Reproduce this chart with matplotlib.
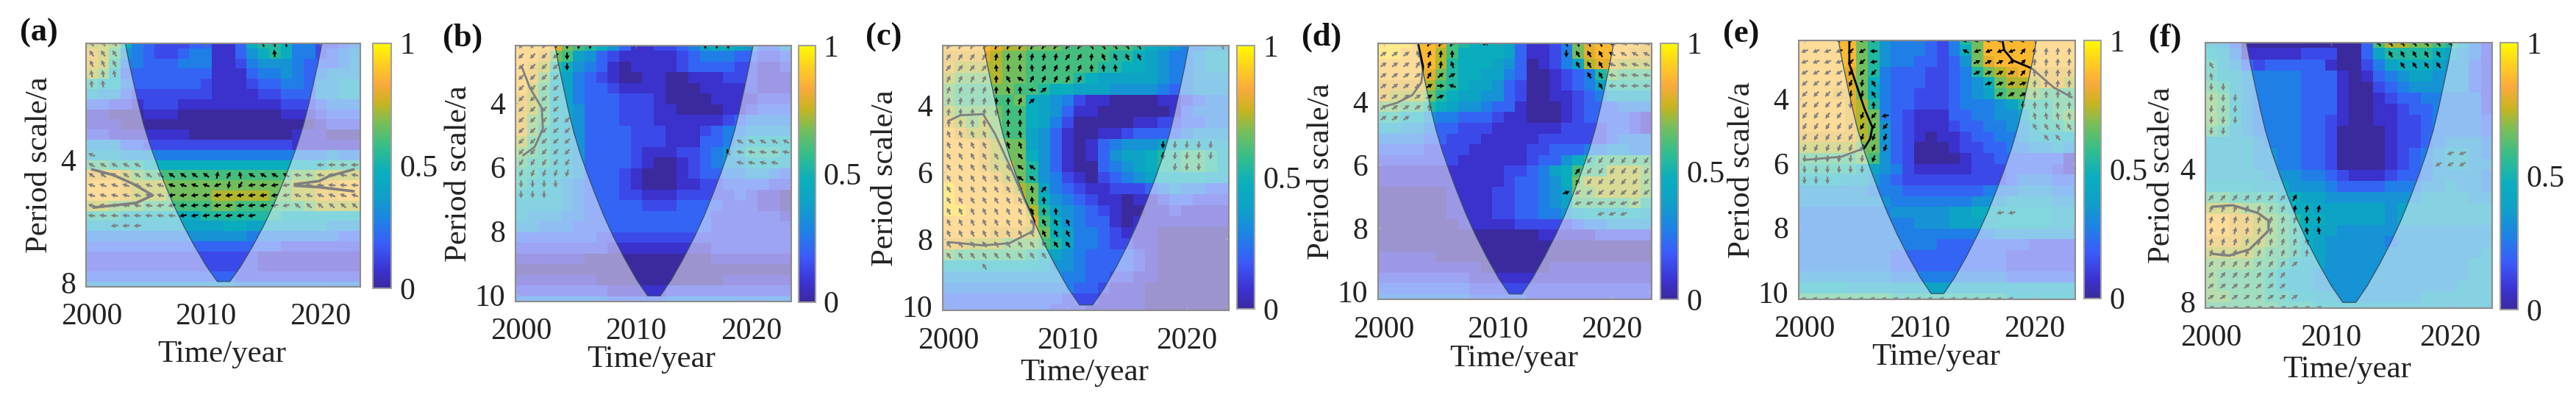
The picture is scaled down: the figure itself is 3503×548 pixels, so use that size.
import numpy as np
import matplotlib
matplotlib.use('Agg')
import matplotlib.pyplot as plt
from matplotlib.colors import LinearSegmentedColormap

plt.rcParams['font.family'] = ['Liberation Serif', 'DejaVu Serif']

W, H = 3503, 548
years = np.arange(2000, 2024)

# coherence per panel, one hex digit per year (0 -> 0.0, F -> 1.0), rows from the top of the plot
coh_a = [
  "BBA7 4322 2331 1378 8744 2234", "CB95 4322 3441 1357 8744 2345", "CB84 4333 4441 1245 5543 3345",
  "BA73 3333 3331 1134 4543 4555", "8774 3333 3321 1123 3443 5566", "6553 2222 2221 1112 2333 5566",
  "3322 1222 1111 1111 1222 3444", "1100 0111 0000 0000 0111 2333", "1110 0000 0000 0000 0000 1222",
  "2211 1111 1000 0000 0011 1000", "5553 3222 2222 2222 2211 1111", "6665 5544 4444 4444 4444 4544",
  "9988 8777 7777 7777 7777 7888", "CCCB A999 9999 9999 99AA BBBB", "DDDC BBBA AAAA AAAA AABB CCDD",
  "DDDC BBBA AAAB BBBB AABB CCDD", "BBAA A999 999A A999 999A BBBB", "8887 7777 7788 8888 8777 7777",
  "6666 6666 6666 7766 6666 6555", "4444 4444 4555 5544 4444 4433", "3333 3333 3333 3333 3222 2222",
  "2222 2222 2222 2221 1111 1111", "2222 2222 2222 2221 1111 1111", "3333 3333 3333 3222 2222 2222",
  "5555 5555 5555 5444 4444 4444",
]
coh_b = [
  "DDDC A987 5311 2234 6776 5335", "DDCA 9653 2111 1123 4443 3223", "DCB8 7543 1011 1123 3332 2112",
  "DCA7 6432 1001 1001 1122 2111", "DB97 6433 2111 1000 1111 2111", "CB97 6433 3222 1000 0111 1222",
  "CB97 6533 3222 1100 0011 2333", "CA97 6533 3222 1111 1123 4444", "CA87 6533 3322 2111 2344 5555",
  "B987 6533 3322 2111 3345 7777", "A987 6533 3321 1122 3456 8887", "9887 6533 3321 0012 3455 7776",
  "8877 6533 3210 0012 3344 5543", "8776 5433 3210 0011 2233 3322", "7766 5433 3221 1122 2223 2110",
  "6666 5433 3332 2233 3322 2110", "6555 4433 3333 3333 3222 2221", "5544 4333 3333 3333 3222 2222",
  "3333 3332 2222 2222 2222 2222", "2222 2222 1111 1111 1222 2222", "1111 1100 0000 0000 0111 1111",
  "0000 0000 0000 0000 0000 0000", "1111 1110 0000 0000 0011 1111", "2222 2222 1111 1222 2222 2222",
  "4444 4444 3333 3444 4444 4444",
]
coh_c = [
  "DDDD CBBA AA99 9999 8765 4455", "CCCC BAA9 9999 9988 7654 4566", "CBBB BAA9 9999 9887 7654 4566",
  "BAAA BAA9 9998 7666 6654 4555", "A999 AA99 8776 6655 5543 4555", "A999 99A7 6542 1100 0011 2344",
  "BAAA A997 6531 1000 0001 3444", "CBAB A997 6420 0000 1122 3344", "DCBB A996 5310 0112 3333 4555",
  "DDDC BAA6 5310 1345 5567 7666", "DDDC BAA7 5310 1356 6788 9987", "DDDC BBA8 5310 0345 6788 9987",
  "DDDD CBA8 5421 0234 5677 7766", "EDDD DCBA 6432 1122 2345 4433", "EDDD DDCA 7543 2110 1123 3222",
  "EEDD DDDB 8654 3210 0112 1111", "DDDD DDDC 9754 3310 1111 1111", "DDDD CCCB A764 4321 1100 0000",
  "CCBB BAAA 9864 4322 1100 0000", "A999 9998 7654 3333 2100 0000", "7777 7777 6554 3333 2100 0000",
  "5555 5555 5544 3322 1100 0000", "4444 4444 4443 3211 1000 0000", "3333 3333 3322 2111 1000 0000",
  "3333 3333 3222 1111 1000 0000",
]
coh_d = [
  "EEED DC98 7776 3112 4ACD DDDC", "EEDD DB97 7776 3112 4ACD DDCC", "DDDD DB87 7765 3012 46BC CBBB",
  "DDDD CA87 7664 3001 2348 A999", "CCCC B987 6653 2001 2346 8888", "CBBB A876 6553 2001 1234 6666",
  "AA99 8765 5433 1000 1233 3444", "8877 5443 3321 1000 1233 3321", "6655 4332 2211 1111 2222 3321",
  "4444 3322 2111 1122 2222 3444", "3333 2222 1111 1223 3344 5544", "2222 2221 1111 1233 5789 9999",
  "1111 1111 1112 2346 7999 BBBA", "1111 1111 1112 3345 7ABB BBBA", "0000 0011 1122 3345 6AAB BBBA",
  "0000 0011 1122 3345 6999 99A8", "0000 0011 1122 3344 5677 7776", "0000 0001 1111 2222 2344 5555",
  "0000 0000 0000 0011 1112 2222", "0000 0000 0000 0000 0000 0000", "1111 1000 0000 0000 0000 0000",
  "1111 1111 1000 0001 1111 1111", "2222 2222 1111 1111 1111 1111", "3333 3333 2222 2222 2222 2222",
  "4444 4444 3333 3222 2222 2222",
]
coh_e = [
  "DDDD DA85 4443 248A DDDD DDDD", "DDDD DA85 4443 247A DDDD DDDD", "DDDD DA85 4433 235A CDDD DDDD",
  "DDDD CA84 3332 2348 ABCD CCCC", "DDDD CA74 3332 2345 7ABB BCCB", "DDDC CA74 3322 2345 69AA A999",
  "DDDD CB84 3322 2344 4568 8899", "DDDD CBA4 3211 1334 4556 889A", "DDDD CBA5 3211 1233 4455 7889",
  "CCCC CBA5 3210 1123 3445 6777", "BBBB BAA5 3200 0122 3344 5565", "9999 9A95 3200 0012 2333 3331",
  "8888 8765 4211 1112 2233 3321", "7777 6654 3222 2222 2234 4433", "5555 5544 4333 3333 4445 5544",
  "5555 5555 4444 4445 5566 6655", "4444 4444 5555 5667 7777 7766", "4444 4444 4455 5666 6777 7766",
  "4444 4444 4444 4444 4555 5555", "4444 4444 4444 3333 3333 2222", "4444 4444 3333 3333 3322 2222",
  "4444 4444 3333 3333 3322 2222", "5555 5555 4444 4444 4433 3333", "7777 6666 6666 6666 6666 6666",
  "9999 9999 8888 8888 8877 7777",
]
coh_f = [
  "6530 0000 0000 039B BAA9 8642", "7641 1111 2220 0368 8887 6542", "8653 2333 3310 0246 7776 5532",
  "8765 4444 3331 0134 5665 5532", "9865 4444 3331 0023 4555 5532", "A965 4444 3331 0012 3344 4442",
  "A975 4444 3331 0011 2334 4442", "A975 4444 3321 0011 2234 4443", "9865 4444 3320 0001 2234 4443",
  "6666 5444 3320 0001 2234 5554", "6666 5544 3320 0001 2345 6654", "6666 5544 3320 0001 2345 6655",
  "6666 6555 4432 1112 3345 5554", "7777 6665 5543 3334 4455 6554", "9988 8877 6655 5555 5566 6655",
  "BBBA A987 7666 6665 6666 6666", "DDCC BA98 7766 6665 6666 6666", "DDCC BA98 7665 5555 5555 5555",
  "CCCB BA98 7655 5554 5555 5555", "BBBB A998 7655 5555 5555 5556", "AAAA 9987 6655 5555 5555 5566",
  "A999 9876 6555 5555 5555 5566", "A999 9876 6555 5555 5555 5666", "AA99 9887 7665 5555 5566 6666",
  "9999 9988 8777 7666 6666 6666",
]

# phase arrows: (row, first column, last column, angle in degrees on screen)
arrows_a = [
  (0, 0, 2, 125), (0, 15, 17, 100), (1, 0, 2, 125), (1, 16, 16, 95), (2, 0, 2, 115), (3, 0, 2, 100), (4, 0, 1, 95),
  (11, 0, 0, 160), (12, 0, 4, 150), (12, 20, 23, 180),
  (13, 0, 10, 145), (13, 11, 11, 80), (13, 12, 12, 60), (13, 13, 13, 100), (13, 14, 17, 150), (13, 18, 23, 170),
  (14, 0, 10, 160), (14, 11, 11, 200), (14, 12, 12, 260), (14, 13, 13, 240), (14, 14, 17, 190), (14, 18, 23, 175),
  (15, 0, 6, 165), (15, 7, 17, 190), (15, 18, 23, 160),
  (16, 0, 5, 170), (16, 6, 17, 190), (16, 18, 23, 140),
  (17, 0, 7, 175), (17, 8, 14, 190), (18, 2, 4, 185),
]
arrows_b = [
  (0, 0, 2, 240), (0, 3, 6, 270), (0, 16, 18, 270), (1, 0, 3, 225), (1, 4, 4, 270), (2, 0, 3, 225), (2, 4, 4, 270),
  (3, 0, 3, 225), (4, 0, 3, 225), (5, 0, 3, 225), (6, 0, 3, 225), (7, 0, 4, 225), (8, 0, 4, 225), (9, 0, 4, 225),
  (10, 0, 4, 230), (11, 0, 4, 240), (12, 0, 4, 250), (13, 0, 3, 270), (14, 0, 2, 270),
  (9, 19, 23, 150), (10, 18, 18, 115), (10, 19, 23, 170), (11, 19, 22, 165),
]
arrows_c = [
  (0, 0, 2, 60), (0, 3, 7, 75), (0, 8, 11, 60), (0, 12, 16, 115), (0, 23, 23, 100),
  (1, 0, 3, 55), (1, 4, 9, 80), (1, 10, 11, 55), (1, 12, 12, 85), (1, 13, 16, 115),
  (2, 0, 3, 50), (2, 4, 7, 95), (2, 8, 11, 65), (2, 12, 12, 90), (2, 13, 14, 95),
  (3, 0, 3, 65), (3, 4, 4, 90), (3, 5, 5, 120), (3, 6, 6, 150), (3, 7, 11, 65),
  (4, 0, 3, 70), (4, 4, 4, 90), (4, 5, 5, 110), (4, 6, 6, 90), (4, 7, 7, 170), (4, 8, 8, 40),
  (5, 0, 3, 80), (5, 4, 5, 90), (5, 6, 6, 70), (5, 7, 7, 40), (6, 0, 3, 85), (6, 4, 6, 85),
  (7, 0, 3, 95), (7, 5, 6, 90), (8, 0, 3, 110), (8, 5, 6, 100), (9, 0, 3, 115), (9, 5, 6, 110),
  (10, 0, 4, 120), (10, 6, 6, 130), (11, 0, 5, 120), (11, 6, 7, 145), (12, 0, 5, 120), (12, 6, 7, 145),
  (13, 0, 6, 120), (13, 7, 7, 100), (13, 8, 8, 50), (14, 0, 6, 120), (14, 7, 8, 95),
  (15, 0, 7, 115), (15, 8, 9, 95), (16, 0, 7, 115), (16, 8, 10, 115), (17, 0, 7, 115), (17, 8, 10, 115),
  (18, 0, 10, 125), (19, 0, 8, 125), (20, 3, 3, 125),
  (9, 18, 22, 265), (10, 18, 22, 265), (11, 19, 21, 265),
]
arrows_d = [
  (0, 3, 3, 100), (0, 4, 6, 60), (0, 9, 9, 30), (0, 16, 19, 110), (0, 20, 23, 150),
  (1, 0, 2, 35), (1, 3, 3, 110), (1, 4, 4, 70), (1, 5, 5, 85), (1, 6, 6, 90), (1, 16, 16, 270), (1, 17, 19, 120), (1, 20, 23, 150),
  (2, 0, 2, 35), (2, 3, 3, 60), (2, 4, 4, 70), (2, 5, 5, 85), (2, 6, 6, 110), (2, 17, 19, 120), (2, 20, 23, 160),
  (3, 0, 3, 35), (3, 4, 4, 60), (3, 5, 5, 40), (3, 6, 6, 30), (3, 18, 19, 120), (3, 20, 23, 170),
  (4, 0, 3, 35), (4, 4, 4, 30), (4, 5, 5, 0), (4, 6, 6, 160), (4, 19, 19, 120), (4, 20, 23, 180),
  (5, 0, 3, 35), (5, 4, 4, 30), (5, 5, 5, 20), (6, 0, 3, 35), (6, 4, 4, 90), (7, 0, 2, 35),
  (11, 18, 23, 235), (12, 17, 17, 50), (12, 18, 23, 235), (13, 17, 17, 60), (13, 18, 23, 230),
  (14, 16, 16, 20), (14, 17, 23, 220), (15, 17, 22, 200), (16, 19, 21, 200),
]
arrows_e = [
  (0, 3, 6, 190), (0, 14, 19, 190), (1, 0, 3, 200), (1, 4, 4, 220), (1, 5, 5, 210), (1, 6, 6, 180), (1, 14, 14, 150), (1, 15, 18, 200), (1, 19, 19, 50), (1, 20, 23, 85),
  (2, 0, 3, 200), (2, 4, 5, 220), (2, 6, 6, 190), (2, 15, 18, 25), (2, 19, 19, 45), (2, 20, 23, 85),
  (3, 0, 3, 210), (3, 4, 4, 240), (3, 5, 6, 230), (3, 15, 18, 25), (3, 19, 19, 50), (3, 20, 23, 85),
  (4, 0, 3, 220), (4, 4, 4, 250), (4, 5, 5, 260), (4, 6, 6, 120), (4, 16, 19, 20), (4, 20, 23, 85),
  (5, 0, 3, 225), (5, 4, 5, 260), (5, 6, 6, 120), (5, 17, 19, 30), (5, 20, 23, 90),
  (6, 0, 3, 230), (6, 4, 4, 265), (6, 6, 6, 90), (6, 19, 19, 270), (6, 20, 23, 90),
  (7, 0, 3, 235), (7, 5, 5, 250), (7, 6, 6, 230), (7, 7, 7, 190), (7, 20, 23, 100),
  (8, 0, 4, 240), (8, 5, 6, 240), (8, 7, 7, 230), (8, 20, 23, 120),
  (9, 0, 4, 240), (9, 5, 6, 250), (9, 7, 7, 250), (9, 21, 22, 130),
  (10, 0, 4, 250), (10, 5, 6, 250), (10, 7, 7, 250), (11, 0, 5, 265), (11, 6, 6, 250), (12, 0, 5, 270), (13, 0, 2, 270),
  (16, 17, 18, 190), (24, 0, 18, 170),
]
arrows_f = [
  (0, 14, 20, 120), (1, 15, 19, 120), (2, 16, 19, 125), (2, 0, 0, 120), (3, 0, 0, 100), (4, 0, 1, 270),
  (5, 0, 2, 265), (6, 0, 2, 265), (7, 0, 2, 265), (8, 0, 1, 265), (10, 20, 21, 200), (11, 19, 21, 210),
  (14, 0, 6, 50), (14, 7, 7, 60), (15, 0, 6, 70), (15, 7, 9, 80), (16, 0, 7, 75), (16, 8, 9, 90),
  (17, 0, 7, 75), (17, 8, 9, 100), (18, 0, 7, 75), (18, 8, 8, 110), (19, 0, 7, 70), (19, 8, 8, 85),
  (20, 0, 6, 55), (20, 7, 7, 40), (21, 0, 6, 50), (22, 0, 6, 40), (23, 0, 7, 35), (24, 0, 9, 30),
]

# significance contours as (year, row) traces
contours_a = [
  [(2000.07, 12.45), (2001.9, 13), (2003.6, 13.85), (2005.35, 15), (2003.9, 15.75), (2001.9, 16), (2000.2, 16.2)],
  [(2017.8, 13.9), (2019.9, 13.6), (2020.8, 13.1), (2022.9, 12.45)],
  [(2017.8, 14.05), (2019.9, 14.2), (2022.9, 14.6)],
]
contours_b = [[(2000.07, 2), (2000.75, 3.93), (2001.8, 5.86), (2001.9, 7.8), (2001.2, 9.5), (2000.2, 10.3)]]
contours_c = [[(2000, 6.8), (2001, 6.3), (2002.9, 6.2), (2003.9, 8), (2005.1, 10.8), (2006.1, 13.3), (2007.2, 15.9),
               (2007.1, 16.8), (2005.1, 17.9), (2002.9, 18.1), (2000, 17.8)]]
contours_d = [[(2003, 0), (2003.45, 2.2), (2003.3, 3.66), (2002.5, 4.87), (2001.15, 5.6), (2000, 5.95)]]
contours_e = [
  [(2003.9, 0), (2003.9, 2.2), (2005.2, 6.3), (2005.9, 8.07), (2005.7, 9.14), (2005.2, 10), (2003.2, 10.8), (2000, 11.1)],
  [(2017.2, 0), (2017.35, 0.9), (2018.1, 1.86), (2019.75, 2.6), (2021.65, 4.37), (2023.2, 5.27)],
]
contours_f = [[(2000.1, 14.84), (2001.8, 14.7), (2003.9, 15.4), (2004.8, 16.1), (2004.8, 17), (2003.2, 18.7),
               (2001.5, 19.26), (2000.1, 19.1)]]

# cone of influence: half width in years around its centre, by row
coi_center = 2011.55
coi_rows = [-0.5, 0, 2, 4, 6, 8, 10, 12, 14, 16, 18, 20, 22, 23.5]
coi_half = [8.7, 8.6, 8.25, 7.85, 7.45, 7.0, 6.45, 5.8, 5.1, 4.35, 3.5, 2.55, 1.5, 0.55]

# colour stops
parula = LinearSegmentedColormap.from_list('parula', [
  (0.0, '#3a2a9e'), (0.075, '#3c32d2'), (0.175, '#3c5afa'), (0.275, '#1e82e6'), (0.375, '#0fa0c8'),
  (0.475, '#0aafbe'), (0.575, '#32be8c'), (0.675, '#78be5a'), (0.755, '#c8b41e'), (0.835, '#faaa3c'),
  (0.925, '#ffd21e'), (1.0, '#fffa00'),
])


def to_grid(rows):
  return np.array([[int(c, 16) / 15 for c in r.replace(' ', '')] for r in rows])


def axes_px(x0, y0, x1, y1):
  return fig.add_axes([x0 / W, 1 - y1 / H, (x1 - x0) / W, (y1 - y0) / H])


def panel(name, coh, arrows, contours, box, cbar, yrange, yticks, ylab_x, xlab, lab, lw):
  ax = axes_px(*box)
  ytop, ybot = yrange
  to_y = lambda r: ytop + np.asarray(r, float) * (ybot - ytop) / 24
  ax.imshow(to_grid(coh), cmap=parula, vmin=0, vmax=1, aspect='auto', interpolation='nearest',
            extent=(1999.5, 2023.5, to_y(24.5), to_y(-0.5)), zorder=1)

  px, py, ang = [], [], []
  for row, c0, c1, a in arrows:
    for c in range(c0, c1 + 1):
      px.append(years[c]); py.append(to_y(row)); ang.append(np.deg2rad(a))
  ax.quiver(px, py, np.cos(ang), np.sin(ang), angles='uv', units='dots', scale_units='dots', scale=1 / 10,
            width=2.2, headwidth=3.0, headlength=2.8, headaxislength=2.5, pivot='mid', color='k', zorder=2)

  for line in contours:
    xs, rs = zip(*line)
    ax.plot(xs, to_y(rs), color='k', lw=lw, solid_joinstyle='round', zorder=3)

  # everything outside the cone is washed out, arrows and contours included
  rows = np.array(coi_rows)
  half = np.array(coi_half)
  left = coi_center - half
  right = coi_center + half
  outer_x = np.r_[1999.5, left, right[::-1], 2023.5, 2023.5, 1999.5]
  outer_y = np.r_[to_y(-0.5), to_y(rows), to_y(rows[::-1]), to_y(-0.5), to_y(24.5), to_y(24.5)]
  ax.fill(outer_x, outer_y, facecolor='white', edgecolor='none', alpha=0.5, zorder=4)
  ax.plot(np.r_[left, right[::-1]], to_y(np.r_[rows, rows[::-1]]), color='#33506a', lw=0.9, zorder=5)

  ax.set_xlim(1999.5, 2023.5)
  ax.set_ylim(ybot, ytop)
  ax.set_xticks([2000, 2010, 2020])
  ax.set_yticks(yticks)
  ax.tick_params(direction='in', length=3, width=1, color='#777777', labelcolor='#222222', labelsize=30, top=True, right=True)
  ax.tick_params(axis='x', pad=16)
  ax.tick_params(axis='y', pad=10)
  for s in ax.spines.values():
    s.set_color('#8c8c8c')
    s.set_linewidth(1.5)
    s.set_zorder(6)

  x0, y0, x1, y1 = box
  ax.set_xlabel('Time/year', fontsize=31, color='#222222', va='center')
  ax.xaxis.set_label_coords((xlab[0] - x0) / (x1 - x0), (y1 - xlab[1]) / (y1 - y0))
  ax.set_ylabel('Period scale/a', fontsize=31, color='#222222', va='center')
  ax.yaxis.set_label_coords((ylab_x - x0) / (x1 - x0), 0.5)
  fig.text(lab[0] / W, 1 - lab[1] / H, name, fontsize=32, fontweight='bold', color='#111111', ha='center', va='center')

  cax = axes_px(*cbar)
  sm = plt.cm.ScalarMappable(cmap=parula, norm=plt.Normalize(0, 1))
  cb = fig.colorbar(sm, cax=cax, ticks=[0, 0.5, 1])
  cb.ax.set_yticklabels(['0', '0.5', '1'])
  cb.ax.tick_params(length=0, labelsize=30, labelcolor='#222222', pad=8)
  cb.outline.set_edgecolor('#a0a0a0')
  cb.outline.set_linewidth(1.5)


fig = plt.figure(figsize=(W / 100, H / 100), dpi=100)

panel('(a)', coh_a, arrows_a, contours_a, (116.7, 58.7, 489.9, 389.7), (507, 58.7, 532, 392),
      (0.23, 8.12), [4, 8], 53.6, (302, 482), (52.6, 45), 2.6)
panel('(b)', coh_b, arrows_b, contours_b, (700.7, 61.9, 1076.4, 409.6), (1086.4, 62, 1108.7, 410.7),
      (2.21, 10.2), [4, 6, 8, 10], 624, (886, 489), (629, 52), 2.0)
panel('(c)', coh_c, arrows_c, contours_c, (1281.9, 62.2, 1670.6, 422.2), (1682, 62.2, 1705.8, 420),
      (2.216, 10.14), [4, 6, 8, 10], 1203.6, (1475, 507), (1202, 50.7), 2.0)
panel('(d)', coh_d, arrows_d, contours_d, (1873.9, 58.7, 2246.4, 407), (2258, 58.7, 2282, 407),
      (2.16, 10.24), [4, 6, 8, 10], 1797, (2059, 488), (1797, 50.7), 2.0)
panel('(e)', coh_e, arrows_e, contours_e, (2446, 54.9, 2821.7, 406.5), (2834, 54.9, 2857, 405.5),
      (2.18, 10.22), [4, 6, 8, 10], 2369, (2633, 486), (2368, 47), 2.0)
panel('(f)', coh_f, arrows_f, contours_f, (2998.8, 58.4, 3389, 418.7), (3400, 58.4, 3423.8, 421),
      (0.24, 8.18), [4, 8], 2940, (3192, 503), (2944, 52), 2.4)

fig.savefig('out.png', dpi=100)
